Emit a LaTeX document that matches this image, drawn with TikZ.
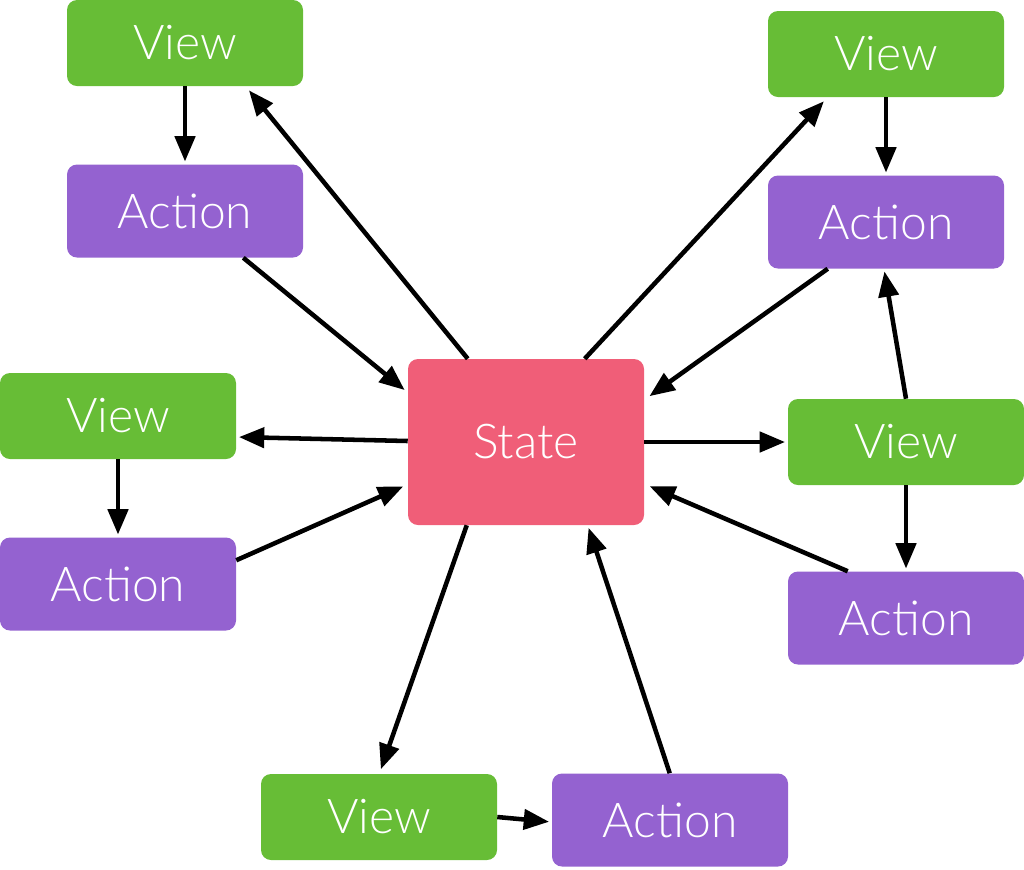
\documentclass[tikz,border=0pt]{standalone}
\usepackage{fontspec}
\setmainfont{Lato Light}
\usetikzlibrary{arrows.meta,calc}
\definecolor{vgreen}{RGB}{103,189,54}
\definecolor{apurple}{RGB}{148,98,208}
\definecolor{sred}{RGB}{240,94,120}
\begin{document}
\begin{tikzpicture}[x=0.75pt,y=-0.75pt,
  box/.style={rounded corners=7.5pt,inner sep=0pt,text=white,font=\fontsize{36}{40}\selectfont,minimum width=177pt},
  viewbox/.style={box,fill=vgreen,minimum height=64.5pt},
  actbox/.style={box,fill=apurple,minimum height=69.75pt},
  statebox/.style={box,fill=sred,minimum height=124.5pt},
  conn/.style={line width=3.4pt,-{Triangle[length=19pt,width=15pt]},shorten >=2pt}]
\useasboundingbox (0,0) rectangle (1024,869);
\node[viewbox] (vw1) at (185,43) {View};
\node[actbox] (ac1) at (185,211) {Action};
\node[viewbox] (vw2) at (886,54) {View};
\node[actbox] (ac2) at (886,222) {Action};
\node[viewbox] (vw3) at (118,416) {View};
\node[actbox] (ac3) at (118,584) {Action};
\node[statebox] (st) at (526,442) {State};
\node[viewbox] (vw4) at (906,442) {View};
\node[actbox] (ac4) at (906,618) {Action};
\node[viewbox] (vw5) at (379,817) {View};
\node[actbox] (ac5) at (670,820) {Action};
% top left
\draw[conn] (vw1.south) -- (ac1.north);
\draw[conn] ($(st.north west)+(60,0)$) -- ($(vw1.south east)+(-56,2)$);
\draw[conn] ($(ac1.south east)+(-60,0)$) -- ($(st.north west)+(-1,33)$);
% top right
\draw[conn] ($(st.north west)+(177,0)$) -- ($(vw2.south west)+(58,2)$);
\draw[conn] (vw2.south) -- (ac2.north);
\draw[conn] ($(ac2.south west)+(60,0)$) -- ($(st.north east)+(3,39)$);
\draw[conn] ($(vw4.north)+(0,0)$) -- ($(ac2.south)+(-2,0)$);
% right
\draw[conn] (st.east) -- (vw4.west);
\draw[conn] (vw4.south) -- (ac4.north);
\draw[conn] ($(ac4.north west)+(60,0)$) -- ($(st.south east)+(3,-40)$);
% bottom
\draw[conn] ($(ac5.north west)+(118,0)$) -- ($(st.south west)+(180,0)$);
\draw[conn] ($(st.south west)+(59,0)$) -- ($(vw5.north)+(1,-2)$);
\draw[conn] ($(vw5.east)+(0,0)$) -- ($(ac5.west)+(0,2)$);
% left
\draw[conn] ($(st.west)+(0,-1)$) -- ($(vw3.east)+(0,21)$);
\draw[conn] (vw3.south) -- (ac3.north);
\draw[conn] ($(ac3.north east)+(0,23)$) -- ($(st.south west)+(-2,-40)$);
\end{tikzpicture}
\end{document}
